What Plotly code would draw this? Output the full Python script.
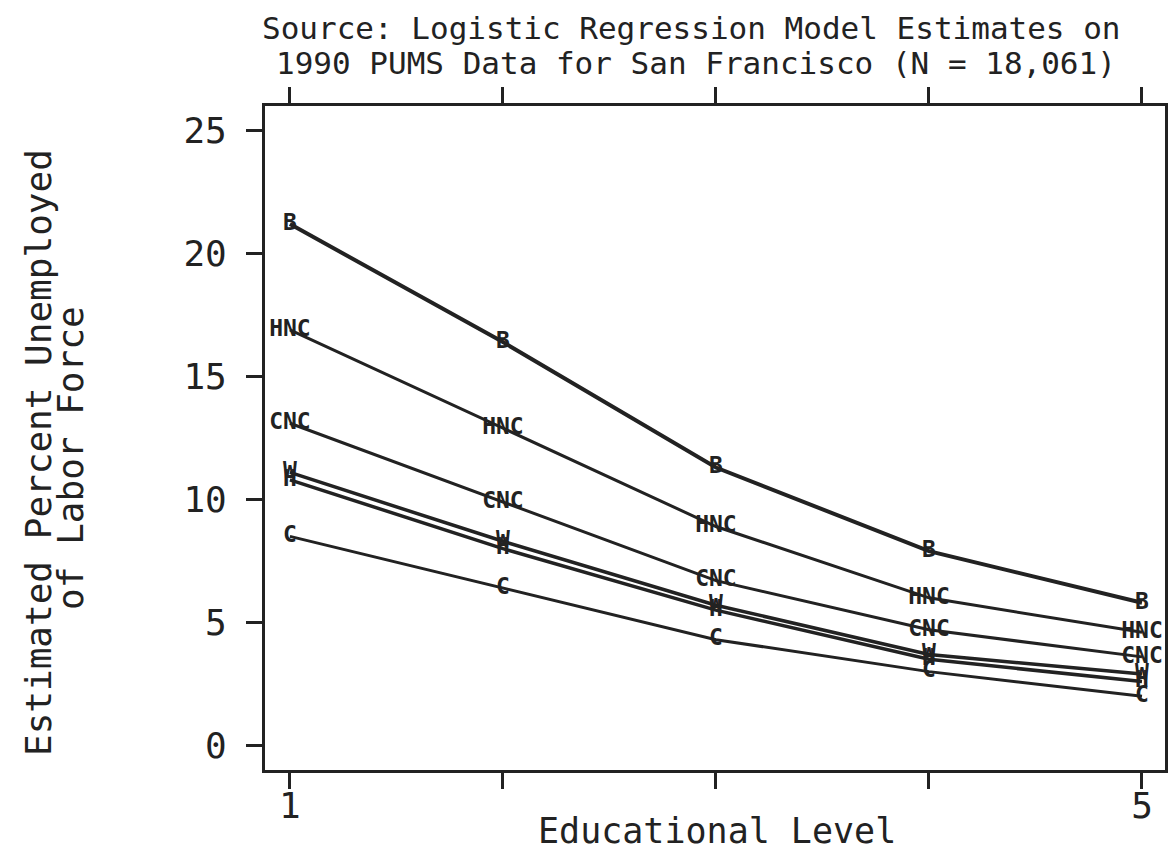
import plotly.graph_objects as go

# ---- data ----
edu_levels = [1, 2, 3, 4, 5]
x_tick_labels = ["1", "", "", "", "5"]
y_tick_values = [0, 5, 10, 15, 20, 25]

series_names = ["B", "HNC", "CNC", "W", "H", "C"]
b_values = [21.2, 16.4, 11.3, 7.9, 5.8]
hnc_values = [16.9, 12.9, 8.9, 6.0, 4.6]
cnc_values = [13.1, 9.9, 6.7, 4.7, 3.6]
w_values = [11.1, 8.3, 5.7, 3.7, 2.9]
h_values = [10.8, 8.0, 5.5, 3.5, 2.6]
c_values = [8.5, 6.4, 4.3, 3.0, 2.0]

series_values = [b_values, hnc_values, cnc_values, w_values, h_values, c_values]
line_widths = [4, 3, 3, 3.5, 3.5, 3]

INK = "#222222"
FONT = "DejaVu Sans Mono"

fig = go.Figure()
for name, vals, lw in zip(series_names, series_values, line_widths):
    fig.add_trace(go.Scatter(
        x=edu_levels, y=vals, mode="lines+text",
        text=[name] * len(vals), textposition="middle center",
        textfont=dict(family=FONT, size=23, color=INK, weight="bold"),
        line=dict(color=INK, width=lw),
        cliponaxis=False, showlegend=False, name=name,
    ))

axis_common = dict(
    showline=True, linecolor=INK, linewidth=3, mirror="ticks",
    ticks="outside", ticklen=16, tickwidth=2.5, tickcolor=INK,
    showgrid=False, zeroline=False, automargin=False,
    tickfont=dict(family=FONT, size=36, color=INK),
)

fig.update_xaxes(range=[0.883, 5.108], tickmode="array",
                 tickvals=edu_levels, ticktext=x_tick_labels,
                 ticklabelstandoff=-14, **axis_common)
fig.update_yaxes(range=[-1, 26], tickmode="array",
                 tickvals=y_tick_values, ticktext=[str(v) for v in y_tick_values],
                 ticklabelstandoff=12, **axis_common)

annotations = [
    dict(text="Source: Logistic Regression Model Estimates on", x=0.474, y=1.1175),
    dict(text="1990 PUMS Data for San Francisco (N = 18,061)", x=0.479, y=1.0648),
    dict(text="Educational Level", x=0.502, y=-0.092, size=35),
    dict(text="Estimated Percent Unemployed", x=-0.2522, y=0.4774, size=36, angle=-90),
    dict(text="of Labor Force", x=-0.2156, y=0.470, size=36, angle=-90),
]
for a in annotations:
    fig.add_annotation(
        text=a["text"], x=a["x"], y=a["y"], xref="paper", yref="paper",
        xanchor="center", yanchor="middle", showarrow=False,
        textangle=a.get("angle", 0),
        font=dict(family=FONT, size=a.get("size", 31), color=INK),
    )

fig.update_layout(
    width=1176, height=857,
    margin=dict(l=257, r=19, t=98, b=95, autoexpand=False),
    paper_bgcolor="white", plot_bgcolor="white",
)

fig.write_html("out.html")
